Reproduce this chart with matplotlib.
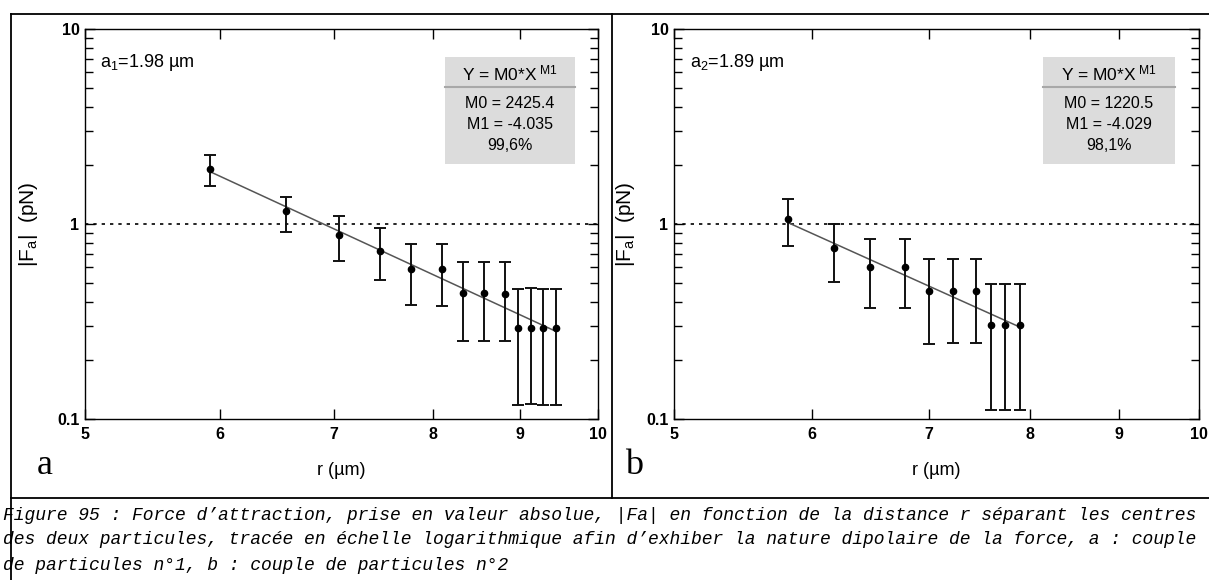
import numpy as np
import matplotlib
matplotlib.use("Agg")
import matplotlib.pyplot as plt
from matplotlib.lines import Line2D
from matplotlib.patches import Rectangle
from matplotlib.ticker import FixedLocator, FixedFormatter, NullLocator, LogLocator

plt.rcParams['font.family'] = ['Liberation Sans', 'DejaVu Sans']
plt.rcParams['mathtext.fontset'] = 'custom'
plt.rcParams['mathtext.rm'] = 'Liberation Sans'
plt.rcParams['mathtext.it'] = 'Liberation Sans:italic'

# ---------------- data ----------------
r_a = [5.92, 6.56, 7.05, 7.45, 7.77, 8.10, 8.33, 8.57, 8.82, 8.98, 9.14, 9.29, 9.45]
F_a = [1.91, 1.17, 0.878, 0.730, 0.585, 0.585, 0.441, 0.441, 0.436, 0.294, 0.294, 0.294, 0.294]
F_a_hi = [2.26, 1.38, 1.10, 0.954, 0.793, 0.793, 0.636, 0.636, 0.636, 0.464, 0.471, 0.464, 0.464]
F_a_lo = [1.57, 0.906, 0.643, 0.514, 0.384, 0.380, 0.250, 0.250, 0.250, 0.118, 0.119, 0.118, 0.118]
M0_a, M1_a = 2425.4, -4.035

r_b = [5.81, 6.18, 6.48, 6.78, 7.00, 7.23, 7.45, 7.60, 7.74, 7.89]
F_b = [1.057, 0.750, 0.604, 0.604, 0.452, 0.455, 0.455, 0.302, 0.302, 0.302]
F_b_hi = [1.34, 1.00, 0.835, 0.835, 0.664, 0.664, 0.664, 0.490, 0.490, 0.490]
F_b_lo = [0.771, 0.506, 0.372, 0.372, 0.242, 0.246, 0.246, 0.111, 0.111, 0.111]
M0_b, M1_b = 1220.5, -4.029

x_ticks = [5, 6, 7, 8, 9, 10]
x_ticklabels = ['5', '6', '7', '8', '9', '10']
y_ticks = [0.1, 1, 10]
y_ticklabels = ['0.1', '1', '10']

panels = [
    dict(r=r_a, F=F_a, hi=F_a_hi, lo=F_a_lo, M0=M0_a, M1=M1_a,
         label='a$_1$=1.98 µm', m0txt='M0 = 2425.4', m1txt='M1 = -4.035', r2='99,6%', letter='a'),
    dict(r=r_b, F=F_b, hi=F_b_hi, lo=F_b_lo, M0=M0_b, M1=M1_b,
         label='a$_2$=1.89 µm', m0txt='M0 = 1220.5', m1txt='M1 = -4.029', r2='98,1%', letter='b'),
]

caption = [
    "Figure 95 : Force d\u2019attraction, prise en valeur absolue, |Fa| en fonction de la distance r séparant les centres",
    "des deux particules, tracée en échelle logarithmique afin d\u2019exhiber la nature dipolaire de la force, a : couple",
    "de particules n°1, b : couple de particules n°2",
]

# ---------------- layout ----------------
W, H = 1209, 580
fig = plt.figure(figsize=(W / 100, H / 100), dpi=100)

def fx(px):
    return px / W

def fy(py):
    return 1 - py / H

# frame lines
for (x0, y0, x1, y1) in [(11, 14, W, 14), (11, 14, 11, H), (11, 498, W, 498), (612, 14, 612, 498)]:
    fig.add_artist(Line2D([fx(x0), fx(x1)], [fy(y0), fy(y1)], color='black', lw=1.3))

axes_px = [(85, 598), (674, 1199)]
ylabel_px = [40, 637]
top_px, bot_px = 29, 419

for (xl, xr), ylx, p in zip(axes_px, ylabel_px, panels):
    ax = fig.add_axes([fx(xl), fy(bot_px), fx(xr - xl), (bot_px - top_px) / H])
    ax.set_xscale('log')
    ax.set_yscale('log')
    ax.set_xlim(5, 10)
    ax.set_ylim(0.1, 10)

    ax.xaxis.set_major_locator(FixedLocator(x_ticks))
    ax.xaxis.set_major_formatter(FixedFormatter(x_ticklabels))
    ax.xaxis.set_minor_locator(NullLocator())
    ax.yaxis.set_major_locator(FixedLocator(y_ticks))
    ax.yaxis.set_major_formatter(FixedFormatter(y_ticklabels))
    ax.yaxis.set_minor_locator(LogLocator(base=10, subs=np.arange(2, 10)))
    ax.yaxis.set_minor_formatter(FixedFormatter([]))

    ax.tick_params(which='both', direction='in', top=True, right=True, width=1, colors='black')
    ax.tick_params(which='major', length=7, labelsize=11.5, pad=4)
    ax.tick_params(which='minor', length=6)
    ax.tick_params(axis='x', which='major', pad=6)
    for lbl in ax.get_xticklabels() + ax.get_yticklabels():
        lbl.set_fontweight('bold')
    for s in ax.spines.values():
        s.set_linewidth(1)

    ax.axhline(1, color='black', ls=(0, (2, 3)), lw=1.2, zorder=1)

    r = np.array(p['r'])
    F = np.array(p['F'])
    yerr = np.vstack([F - np.array(p['lo']), np.array(p['hi']) - F])
    rr = np.linspace(r.min(), r.max(), 100)
    ax.plot(rr, p['M0'] * rr ** p['M1'], color='#555555', lw=1.1, zorder=2)
    ax.errorbar(r, F, yerr=yerr, fmt='o', color='black', ms=4.5, ecolor='#111111',
                elinewidth=1.4, capsize=4.5, capthick=1.4, zorder=3)

    ax.text(0.03, 0.915, p['label'], transform=ax.transAxes, fontsize=13,
            ha='left', va='center')

    # fit box
    bx0, bx1 = 0.702, 0.955
    by0, by1 = 0.655, 0.928
    ax.add_patch(Rectangle((bx0, by0), bx1 - bx0, by1 - by0, transform=ax.transAxes,
                           facecolor='#dcdcdc', edgecolor='none', zorder=4))
    ax.add_line(Line2D([bx0, bx1], [0.852, 0.852], transform=ax.transAxes,
                       color='#a8a8a8', lw=1.5, zorder=5))
    cx = (bx0 + bx1) / 2
    ax.text(cx, 0.885, r'Y = M0*X$^{\ \rm M1}$', transform=ax.transAxes, fontsize=12.5,
            ha='center', va='center', zorder=6)
    ax.text(cx, 0.81, p['m0txt'], transform=ax.transAxes, fontsize=11.5,
            ha='center', va='center', zorder=6)
    ax.text(cx, 0.755, p['m1txt'], transform=ax.transAxes, fontsize=11.5,
            ha='center', va='center', zorder=6)
    ax.text(cx, 0.70, p['r2'], transform=ax.transAxes, fontsize=11.5,
            ha='center', va='center', zorder=6)

    ax.set_ylabel('|F$_{\\rm a}$|  (pN)', fontsize=15)
    ax.yaxis.set_label_coords((ylx - xl) / (xr - xl), 0.5)
    ax.set_xlabel('r (µm)', fontsize=13, labelpad=14)

    fig.text(fx(xl - 40), fy(466), p['letter'], fontsize=26, family='Liberation Serif',
             ha='center', va='center')

# caption
for i, line in enumerate(caption):
    fig.text(fx(3), fy(515 + 25 * i), line, fontsize=13, family='Liberation Mono',
             style='italic', ha='left', va='center')

fig.savefig('out.png', dpi=100)
